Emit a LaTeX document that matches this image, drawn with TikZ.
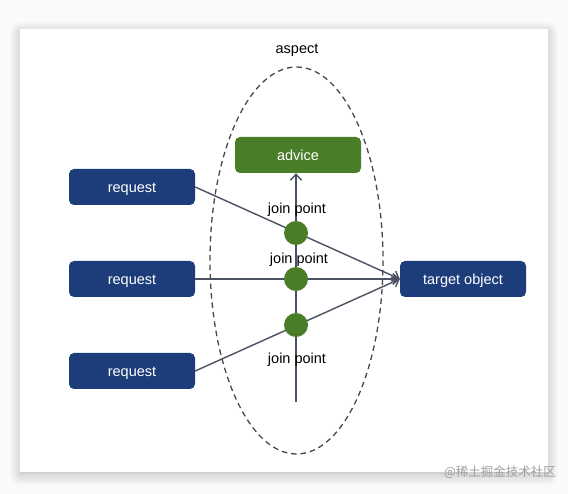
\documentclass[tikz,border=0pt]{standalone}
\usepackage{fontspec}
\setmainfont{Liberation Sans}
\newfontfamily\cjkfont{Noto Sans CJK SC}
\usetikzlibrary{arrows.meta, positioning}
\definecolor{boxblue}{HTML}{1D3D7A}
\definecolor{boxgreen}{HTML}{4A7D27}
\definecolor{linegray}{HTML}{4B5063}
\tikzset{
  box/.style = {rounded corners=5pt, minimum width=126pt, minimum height=36pt,
    inner sep=0pt, text height=12pt, text depth=0pt, text=white,
    font=\fontsize{14.5}{17}\selectfont},
  reqbox/.style = {box, fill=boxblue},
  advbox/.style = {box, fill=boxgreen},
  joint/.style = {circle, fill=boxgreen, minimum size=24pt, inner sep=0pt},
  jplabel/.style = {inner sep=0pt, font=\fontsize{14.5}{17}\selectfont},
  conn/.style = {draw=linegray, line width=1.4pt,
    -{Straight Barb[length=6pt,width=11pt]}}
}

\begin{document}
\begin{tikzpicture}[x=1pt, y=-1pt]
\useasboundingbox (0,0) rectangle (568,494);
\fill[white!98!black] (0,0) rectangle (568,494);
% card with soft shadow
\foreach \s in {1,...,10}
  \fill[black, opacity=0.012, rounded corners=\s pt]
    (20-\s,29-\s+3) rectangle (548+\s,472+\s+3);
\fill[black!18] (20,29) rectangle (548,473.5);
\fill[white] (20,29) rectangle (548,472);

% aspect
\draw[black!72, line width=1.3pt, dash pattern=on 5.5pt off 4pt]
  (296.5,260.5) ellipse [x radius=86.5, y radius=193.5];
\node[jplabel] (aspect) at (297,50) {aspect};

\node[advbox] (advice) at (298,155) {advice};
\node[reqbox] (req1) at (132,187) {request};
\node[reqbox] (req2) at (132,279) {request};
\node[reqbox] (req3) at (132,371) {request};
\node[box, fill=boxblue] (target) at (463,279) {target object};

\coordinate (stem) at (296,402);
\draw[conn] (stem) -- (advice.south -| stem);
\draw[conn] (req1.east) -- (target.west);
\draw[conn] (req2.east) -- (target.west);
\draw[conn] (req3.east) -- (target.west);

\node[joint] (jp1) at (296,233) {};
\node[joint] (jp2) at (296,279) {};
\node[joint] (jp3) at (296,325) {};
\node[jplabel] (lab1) at (297,210) {join point};
\node[jplabel] (lab2) at (299,260) {join point};
\node[jplabel] (lab3) at (297,360) {join point};

\node[text=black!38, font=\cjkfont\fontsize{12.5}{14}\selectfont] (mark) at (500,472) {@稀土掘金技术社区};
\end{tikzpicture}
\end{document}
